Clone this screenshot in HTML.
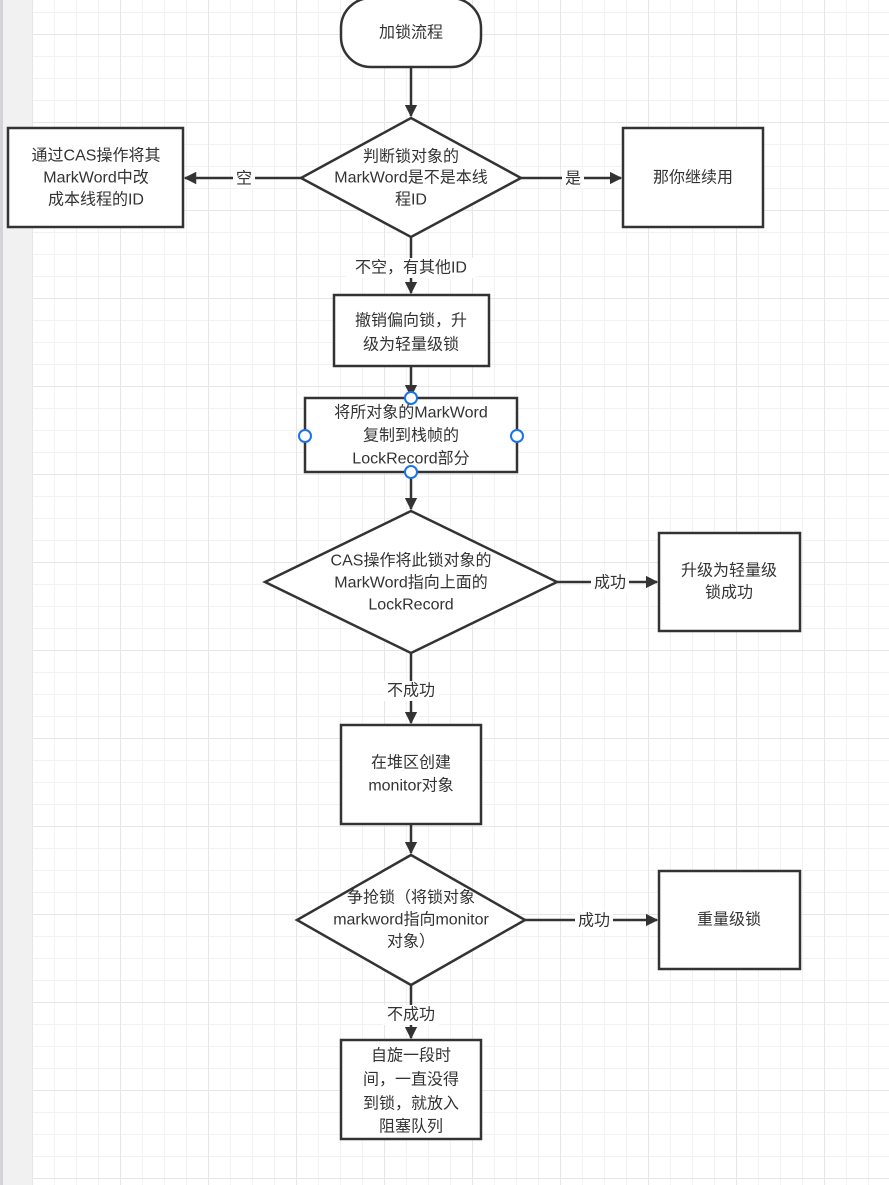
<!DOCTYPE html>
<html><head><meta charset="utf-8"><style>
html,body{margin:0;padding:0;background:#fff}
svg{display:block}
text{font-family:"Liberation Sans","Noto Sans CJK SC",sans-serif;font-size:16px;fill:#333;text-anchor:middle;dominant-baseline:central}
</style></head><body>
<svg width="889" height="1185" viewBox="0 0 889 1185" xmlns="http://www.w3.org/2000/svg">
<defs>
<pattern id="mn" x="32" y="12" width="22" height="22" patternUnits="userSpaceOnUse">
<path d="M0 0V22M0 0H22" stroke="#f2f2f2" stroke-width="2" fill="none"/></pattern>
<pattern id="mj" x="32" y="34" width="88" height="88" patternUnits="userSpaceOnUse">
<path d="M0 0V88M0 0H88" stroke="#e6e6e6" stroke-width="2" fill="none"/></pattern>
<marker id="a" viewBox="0 0 10 10" refX="9" refY="5" markerWidth="5" markerHeight="5" orient="auto" markerUnits="strokeWidth">
<path d="M0 0L10 5L0 10z" fill="#333"/></marker>
</defs>
<rect width="889" height="1185" fill="#fff"/>
<rect x="32" width="857" height="1185" fill="url(#mn)"/>
<rect x="32" width="857" height="1185" fill="url(#mj)"/>
<rect x="0" width="32" height="1185" fill="#f1f1f1"/>
<rect x="0" width="3" height="1185" fill="#d4d4d8"/>
<g stroke="#333" stroke-width="2.5" fill="#fff">
<rect x="341" y="-2" width="140" height="69" rx="30"/>
<polygon points="411,118 521,178 411,237 301,178"/>
<rect x="8" y="128" width="175" height="99"/>
<rect x="623" y="128" width="140" height="99"/>
<rect x="334" y="295" width="155" height="71"/>
<rect x="305" y="398" width="212" height="74"/>
<polygon points="411,511 557,582 411,653 265,582"/>
<rect x="659" y="533" width="141" height="98"/>
<rect x="341" y="725" width="140" height="99"/>
<polygon points="411,855 525,920 411,985 297,920"/>
<rect x="659" y="871" width="141" height="98"/>
<rect x="341" y="1040" width="140" height="99"/>
</g>
<g stroke="#333" stroke-width="2.5" fill="none" marker-end="url(#a)">
<line x1="411" y1="67" x2="411" y2="116"/>
<line x1="301" y1="178" x2="185" y2="178"/>
<line x1="521" y1="178" x2="621" y2="178"/>
<line x1="411" y1="237" x2="411" y2="293"/>
<line x1="411" y1="366" x2="411" y2="396"/>
<line x1="411" y1="472" x2="411" y2="509"/>
<line x1="557" y1="582" x2="657" y2="582"/>
<line x1="411" y1="653" x2="411" y2="723"/>
<line x1="411" y1="824" x2="411" y2="853"/>
<line x1="525" y1="920" x2="657" y2="920"/>
<line x1="411" y1="985" x2="411" y2="1038"/>
</g>
<g fill="#fff">
<rect x="233" y="168" width="22" height="20"/>
<rect x="562" y="168" width="22" height="20"/>
<rect x="346" y="258" width="130" height="20"/>
<rect x="591" y="573" width="38" height="20"/>
<rect x="383" y="681" width="56" height="20"/>
<rect x="575" y="911" width="38" height="20"/>
<rect x="383" y="1005" width="56" height="20"/>
</g>
<g fill="#fff" stroke="#1a73e8" stroke-width="2">
<circle cx="411" cy="398" r="6"/><circle cx="305" cy="436" r="6"/>
<circle cx="517" cy="436" r="6"/><circle cx="411" cy="472" r="6"/>
</g>
<text x="411" y="33">加锁流程</text>
<text x="411" y="157">判断锁对象的</text>
<text x="411" y="178">MarkWord是不是本线</text>
<text x="411" y="200">程ID</text>
<text x="96" y="156">通过CAS操作将其</text>
<text x="96" y="178">MarkWord中改</text>
<text x="96" y="200">成本线程的ID</text>
<text x="244" y="179">空</text>
<text x="573" y="179">是</text>
<text x="693" y="178">那你继续用</text>
<text x="411" y="268">不空，有其他ID</text>
<text x="411" y="321">撤销偏向锁，升</text>
<text x="411" y="345">级为轻量级锁</text>
<text x="411" y="413">将所对象的MarkWord</text>
<text x="411" y="436">复制到栈帧的</text>
<text x="411" y="459">LockRecord部分</text>
<text x="411" y="561">CAS操作将此锁对象的</text>
<text x="411" y="583">MarkWord指向上面的</text>
<text x="411" y="605">LockRecord</text>
<text x="610" y="583">成功</text>
<text x="729" y="571">升级为轻量级</text>
<text x="729" y="593">锁成功</text>
<text x="411" y="691">不成功</text>
<text x="411" y="763">在堆区创建</text>
<text x="411" y="786">monitor对象</text>
<text x="411" y="898">争抢锁（将锁对象</text>
<text x="411" y="920">markword指向monitor</text>
<text x="411" y="942">对象）</text>
<text x="594" y="921">成功</text>
<text x="729" y="920">重量级锁</text>
<text x="411" y="1015">不成功</text>
<text x="411" y="1056">自旋一段时</text>
<text x="411" y="1080">间，一直没得</text>
<text x="411" y="1104">到锁，就放入</text>
<text x="411" y="1127">阻塞队列</text>
</svg>
</body></html>
